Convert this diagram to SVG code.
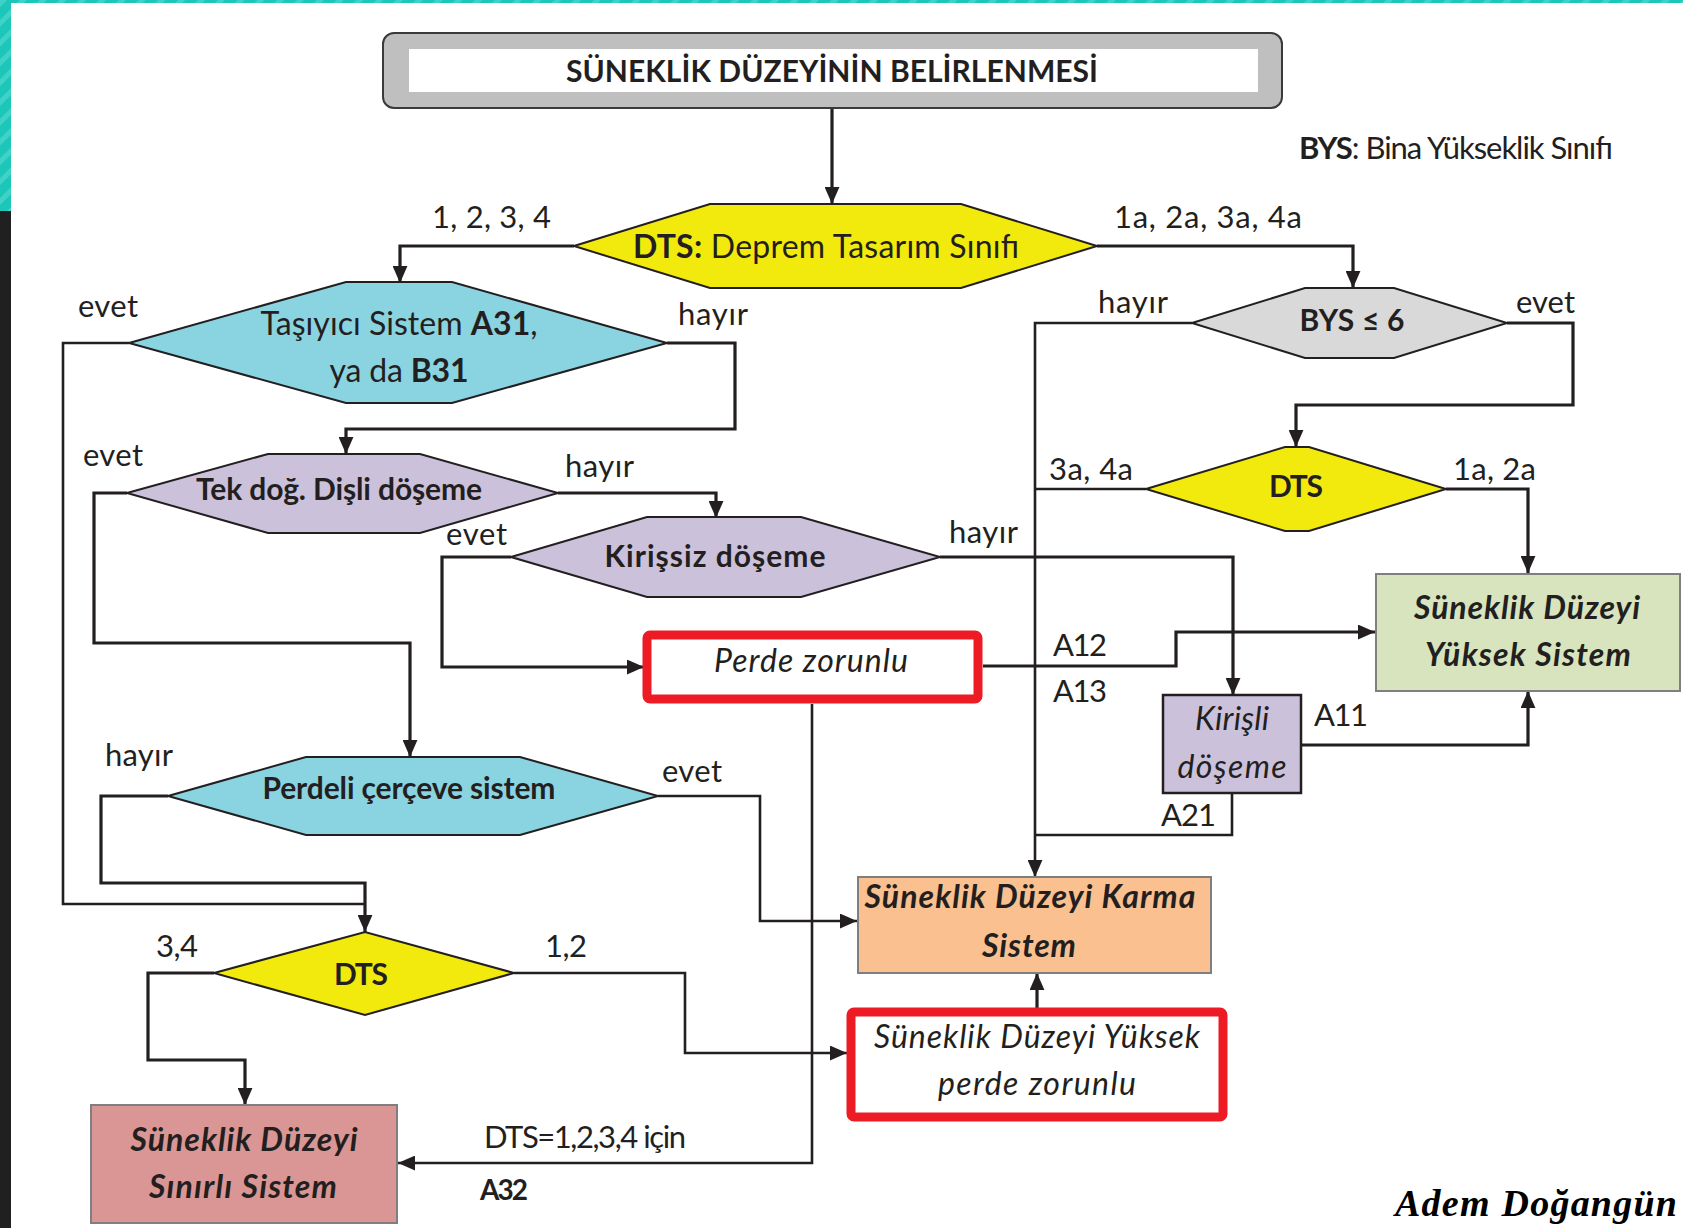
<svg xmlns="http://www.w3.org/2000/svg" width="1683" height="1228" viewBox="0 0 1683 1228">
<defs>
  <pattern id="stripes" width="14" height="14" patternUnits="userSpaceOnUse" patternTransform="rotate(45)">
    <rect width="14" height="14" fill="#1cc6b9"/>
    <rect width="5" height="14" fill="#3fd2c6"/>
  </pattern>
  <marker id="arr" viewBox="0 0 16 14" markerWidth="17" markerHeight="15" refX="16" refY="7" orient="auto" markerUnits="userSpaceOnUse">
    <path d="M0,0 L16,7 L0,14 z" fill="#231f20"/>
  </marker>
  <style>
    .ln{fill:none;stroke:#231f20;stroke-width:3.2;stroke-linejoin:miter}
    .thin{stroke-width:2.6}
    .hex{stroke:#231f20;stroke-width:2}
    .t{font-family:Lato,'Liberation Sans',sans-serif;font-size:32px;fill:#231f20}
    .b{font-weight:bold}
    .bs{font-size:30px}
    .i{font-style:italic}
    .c{text-anchor:middle}
    .lbl{font-family:Lato,'Liberation Sans',sans-serif;font-size:31px;fill:#231f20}
  </style>
</defs>
<rect x="0" y="0" width="1683" height="1228" fill="#ffffff"/>
<!-- frame -->
<rect x="0" y="0" width="1683" height="3" fill="url(#stripes)"/>
<rect x="0" y="0" width="11" height="211" fill="url(#stripes)"/>
<rect x="0" y="211" width="11" height="1017" fill="#202020"/>

<!-- connectors -->
<g id="connectors">
  <polyline class="ln" points="832,108 832,204" marker-end="url(#arr)"/>
  <polyline class="ln" points="574,246 400,246 400,283" marker-end="url(#arr)"/>
  <polyline class="ln" points="1097,246 1353,246 1353,288" marker-end="url(#arr)"/>
  <polyline class="ln thin" points="129,343 63,343 63,904 365,904"/>
  <polyline class="ln" points="667,343 735,343 735,429 346,429 346,454" marker-end="url(#arr)"/>
  <polyline class="ln" points="127,493 94,493 94,643 410,643 410,757" marker-end="url(#arr)"/>
  <polyline class="ln" points="558,493 716,493 716,518" marker-end="url(#arr)"/>
  <polyline class="ln" points="511,557 442,557 442,667 644,667" marker-end="url(#arr)"/>
  <polyline class="ln" points="940,557 1233,557 1233,695" marker-end="url(#arr)"/>
  <polyline class="ln" points="983,666 1176,666 1176,632 1375,632" marker-end="url(#arr)"/>
  <polyline class="ln thin" points="812,704 812,1163 398,1163" marker-end="url(#arr)"/>
  <polyline class="ln thin" points="1192,323 1035,323 1035,877" marker-end="url(#arr)"/>
  <polyline class="ln" points="1507,323 1573,323 1573,405 1296,405 1296,447" marker-end="url(#arr)"/>
  <polyline class="ln thin" points="1146,489 1035,489"/>
  <polyline class="ln" points="1446,489 1528,489 1528,573" marker-end="url(#arr)"/>
  <polyline class="ln" points="1301,745 1528,745 1528,691" marker-end="url(#arr)"/>
  <polyline class="ln thin" points="1232,793 1232,835 1035,835"/>
  <polyline class="ln" points="168,796 101,796 101,883 365,883 365,932" marker-end="url(#arr)"/>
  <polyline class="ln thin" points="658,796 760,796 760,921 857,921" marker-end="url(#arr)"/>
  <polyline class="ln" points="214,973 148,973 148,1060 245,1060 245,1105" marker-end="url(#arr)"/>
  <polyline class="ln thin" points="514,973 685,973 685,1053 847,1053" marker-end="url(#arr)"/>
  <polyline class="ln" points="1037,1008 1037,973" marker-end="url(#arr)"/>
</g>

<!-- labels -->
<g id="labels">
  <text class="lbl" x="432" y="228" textLength="119">1, 2, 3, 4</text>
  <text class="lbl" x="1114" y="228" textLength="188">1a, 2a, 3a, 4a</text>
  <text class="lbl" x="1299" y="159" textLength="314"><tspan class="b">BYS</tspan>: Bina Yükseklik Sınıfı</text>
  <text class="lbl" x="78" y="317" textLength="60">evet</text>
  <text class="lbl" x="678" y="325" textLength="70">hayır</text>
  <text class="lbl" x="83" y="466" textLength="60">evet</text>
  <text class="lbl" x="565" y="477" textLength="69">hayır</text>
  <text class="lbl" x="446" y="545" textLength="61">evet</text>
  <text class="lbl" x="949" y="543" textLength="69">hayır</text>
  <text class="lbl" x="1098" y="313" textLength="70">hayır</text>
  <text class="lbl" x="1516" y="313" textLength="59">evet</text>
  <text class="lbl" x="1049" y="480" textLength="84">3a, 4a</text>
  <text class="lbl" x="1453" y="480" textLength="83">1a, 2a</text>
  <text class="lbl" x="1053" y="656" textLength="54">A12</text>
  <text class="lbl" x="1053" y="702" textLength="54">A13</text>
  <text class="lbl" x="1314" y="726" textLength="54">A11</text>
  <text class="lbl" x="1161" y="826" textLength="55">A21</text>
  <text class="lbl" x="105" y="766" textLength="68">hayır</text>
  <text class="lbl" x="662" y="782" textLength="60">evet</text>
  <text class="lbl" x="156" y="957" textLength="42">3,4</text>
  <text class="lbl" x="545" y="957" textLength="42">1,2</text>
  <text class="lbl" x="484" y="1148" textLength="202">DTS=1,2,3,4 için</text>
  <text class="lbl b" x="480" y="1200" textLength="48" style="font-size:28px">A32</text>
</g>

<!-- nodes -->
<g id="title">
  <rect x="383" y="33" width="899" height="75" rx="11" fill="#bfbfbf" stroke="#3a3a3a" stroke-width="2"/>
  <rect x="409" y="49" width="849" height="43" fill="#ffffff"/>
  <text class="t b bs c" x="832" y="82" textLength="532">SÜNEKLİK DÜZEYİNİN BELİRLENMESİ</text>
</g>
<g id="dts-top">
  <polygon class="hex" points="574,246 710,204 961,204 1097,246 961,288 710,288" fill="#f3ea0d"/>
  <text class="t c" x="826" y="258" textLength="386"><tspan class="b">DTS:</tspan> Deprem Tasarım Sınıfı</text>
</g>
<g id="tasiyici">
  <polygon class="hex" points="129,343 346,282 452,282 667,343 452,403 346,403" fill="#8ad3e1"/>
  <text class="t c" x="399" y="335" textLength="277">Taşıyıcı Sistem <tspan class="b">A31</tspan>,</text>
  <text class="t c" x="399" y="382" textLength="139">ya da <tspan class="b">B31</tspan></text>
</g>
<g id="tekdog">
  <polygon class="hex" points="127,493 268,454 420,454 558,493 420,533 268,533" fill="#ccc1db"/>
  <text class="t b bs c" x="339" y="500" textLength="286">Tek doğ. Dişli döşeme</text>
</g>
<g id="kirissiz">
  <polygon class="hex" points="511,557 647,517 801,517 940,557 801,597 647,597" fill="#ccc1db"/>
  <text class="t b bs c" x="715" y="567" textLength="221">Kirişsiz döşeme</text>
</g>
<g id="perde-zorunlu">
  <rect x="647" y="635" width="331" height="64" rx="3" fill="#ffffff" stroke="#ed1c24" stroke-width="9"/>
  <text class="t i c" x="811" y="672" textLength="194">Perde zorunlu</text>
</g>
<g id="bys">
  <polygon class="hex" points="1192,323 1305,288 1394,288 1507,323 1394,358 1305,358" fill="#d9d9d9"/>
  <text class="t b bs c" x="1352" y="331" textLength="105">BYS ≤ 6</text>
</g>
<g id="dts-right">
  <polygon class="hex" points="1146,489 1285,447 1309,447 1446,489 1309,531 1285,531" fill="#f3ea0d"/>
  <text class="t b bs c" x="1296" y="497" textLength="54">DTS</text>
</g>
<g id="yuksek">
  <rect x="1376" y="574" width="304" height="117" fill="#d7e4bd" stroke="#7f7f7f" stroke-width="2"/>
  <text class="t b i c" x="1527" y="619" textLength="226">Süneklik Düzeyi</text>
  <text class="t b i c" x="1528" y="666" textLength="206">Yüksek Sistem</text>
</g>
<g id="kirisli">
  <rect x="1163" y="695" width="138" height="98" fill="#ccc1db" stroke="#231f20" stroke-width="2.5"/>
  <text class="t i c" x="1232" y="730" textLength="74">Kirişli</text>
  <text class="t i c" x="1232" y="778" textLength="109">döşeme</text>
</g>
<g id="perdeli">
  <polygon class="hex" points="168,796 306,757 520,757 658,796 520,835 306,835" fill="#8ad3e1"/>
  <text class="t b bs c" x="409" y="799" textLength="293">Perdeli çerçeve sistem</text>
</g>
<g id="karma">
  <rect x="858" y="877" width="353" height="96" fill="#fac08f" stroke="#7f7f7f" stroke-width="2"/>
  <text class="t b i c" x="1030" y="908" textLength="331">Süneklik Düzeyi Karma</text>
  <text class="t b i c" x="1029" y="957" textLength="94">Sistem</text>
</g>
<g id="dts-bottom">
  <polygon class="hex" points="214,973 365,932 514,973 365,1015" fill="#f3ea0d"/>
  <text class="t b bs c" x="361" y="985" textLength="54">DTS</text>
</g>
<g id="yuksek-perde">
  <rect x="851" y="1012" width="372" height="105" rx="3" fill="#ffffff" stroke="#ed1c24" stroke-width="9"/>
  <text class="t i c" x="1037" y="1048" textLength="326">Süneklik Düzeyi Yüksek</text>
  <text class="t i c" x="1037" y="1095" textLength="198">perde zorunlu</text>
</g>
<g id="sinirli">
  <rect x="91" y="1105" width="306" height="118" fill="#d99694" stroke="#7f7f7f" stroke-width="2"/>
  <text class="t b i c" x="244" y="1151" textLength="227">Süneklik Düzeyi</text>
  <text class="t b i c" x="243" y="1198" textLength="188">Sınırlı Sistem</text>
</g>
<text x="1395" y="1216" textLength="282" style="font-family:'Liberation Serif',serif;font-style:italic;font-weight:bold;font-size:38px;fill:#000">Adem Doğangün</text>
</svg>
